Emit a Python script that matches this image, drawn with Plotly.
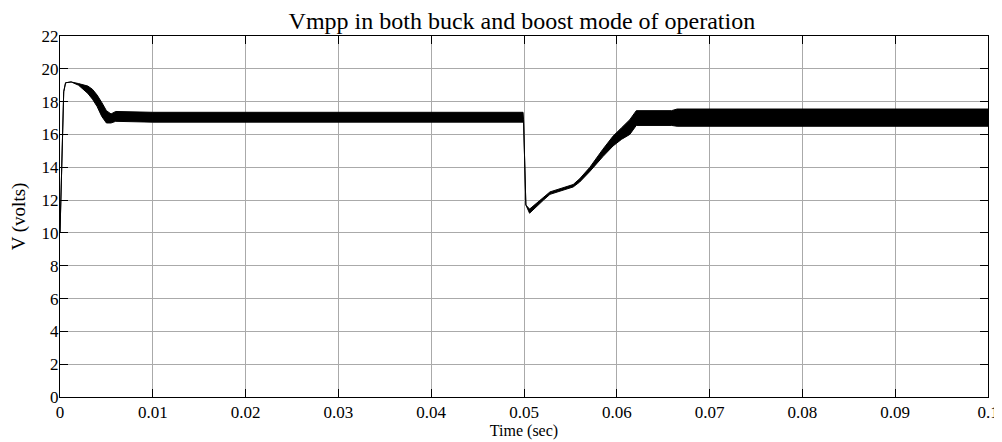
import plotly.graph_objects as go

# Envelope of the Vmpp trace (upper / lower edge of the ripple band)
time_s = [0.0, 0.0001, 0.00025, 0.0004, 0.0006, 0.0012, 0.002, 0.003, 0.0035, 0.004,
          0.0045, 0.005, 0.0055, 0.006, 0.01, 0.02, 0.03, 0.04, 0.0499,
          0.04995, 0.0502, 0.0506, 0.0515, 0.0521, 0.0528, 0.0542, 0.0553, 0.056,
          0.0571, 0.0585, 0.0596, 0.0605, 0.0614, 0.0621, 0.0659, 0.0665, 0.07,
          0.08, 0.09, 0.1]
v_upper = [10.0, 12.5, 16.0, 18.6, 19.15, 19.2, 19.1, 18.95, 18.75, 18.4,
           17.95, 17.45, 17.25, 17.4, 17.35, 17.35, 17.35, 17.35, 17.35,
           16.9, 11.7, 11.45, 11.9, 12.2, 12.5, 12.75, 12.95, 13.3,
           14.0, 15.1, 15.9, 16.4, 16.9, 17.45, 17.45, 17.55, 17.55,
           17.55, 17.55, 17.55]
v_lower = [10.0, 12.5, 16.0, 18.6, 19.15, 19.2, 19.0, 18.5, 18.15, 17.7,
           17.1, 16.7, 16.7, 16.8, 16.75, 16.75, 16.75, 16.75, 16.75,
           16.9, 11.7, 11.2, 11.7, 12.0, 12.35, 12.6, 12.8, 13.1,
           13.75, 14.65, 15.3, 15.7, 16.0, 16.55, 16.55, 16.5, 16.5,
           16.5, 16.5, 16.5]

x_ticks = [0, 0.01, 0.02, 0.03, 0.04, 0.05, 0.06, 0.07, 0.08, 0.09, 0.1]
x_tick_labels = ["0", "0.01", "0.02", "0.03", "0.04", "0.05", "0.06", "0.07", "0.08", "0.09", "0.1"]
y_ticks = [0, 2, 4, 6, 8, 10, 12, 14, 16, 18, 20, 22]
y_tick_labels = [str(v) for v in y_ticks]

font_family = "Liberation Serif"

fig = go.Figure()
fig.add_trace(go.Scatter(x=time_s, y=v_lower, mode="lines",
                         line=dict(color="black", width=1), showlegend=False,
                         hoverinfo="skip"))
fig.add_trace(go.Scatter(x=time_s, y=v_upper, mode="lines", fill="tonexty",
                         fillcolor="black",
                         line=dict(color="black", width=1), showlegend=False))

axis_common = dict(showline=True, linecolor="black", linewidth=1, mirror="ticks",
                   ticks="inside", ticklen=8, tickcolor="black",
                   showgrid=True, gridcolor="rgb(170,170,170)", gridwidth=1,
                   zeroline=False, automargin=False,
                   tickfont=dict(family=font_family, size=17, color="black"))

fig.update_xaxes(range=[0, 0.1], tickvals=x_ticks, ticktext=x_tick_labels,
                 ticklabelstandoff=0,
                 title=dict(text="Time (sec)", standoff=1,
                            font=dict(family=font_family, size=16, color="black")),
                 **axis_common)
fig.update_yaxes(range=[0, 22], tickvals=y_ticks, ticktext=y_tick_labels,
                 ticklabelstandoff=-3,
                 title=dict(text="V (volts)", standoff=12,
                            font=dict(family=font_family, size=19, color="black")),
                 **axis_common)

# The page body adds an 8 px offset, so the figure is sized to fit the window
fig.update_layout(
    width=994, height=434,
    margin=dict(l=52, r=14, t=28, b=45),
    paper_bgcolor="white", plot_bgcolor="white",
    title=dict(text="Vmpp in both buck and boost mode of operation",
               x=0.517, xanchor="center", y=0.97, yanchor="middle",
               font=dict(family=font_family, size=24, color="black")),
)

fig.write_html("out.html")
